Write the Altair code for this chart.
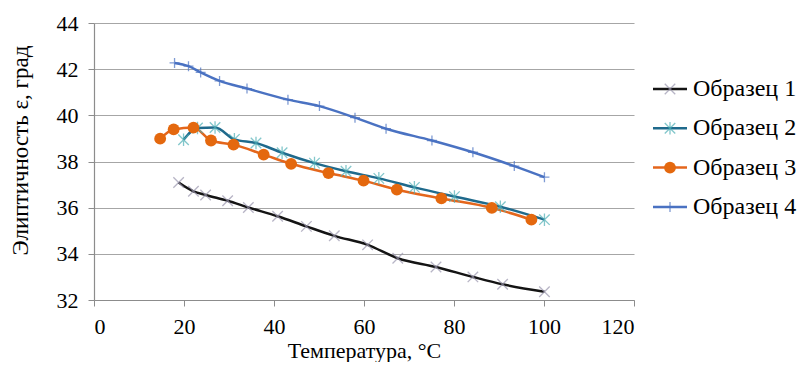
import altair as alt
import pandas as pd

# ---- data ----
series_names = ["Образец 1", "Образец 2", "Образец 3", "Образец 4"]

s1_x = [18.8, 22.1, 24.8, 29.7, 34.3, 40.8, 47.2, 53.4, 60.8, 67.5, 76.0, 84.2, 90.8, 100.1]
s1_y = [37.09, 36.71, 36.55, 36.30, 36.01, 35.63, 35.19, 34.78, 34.39, 33.81, 33.43, 33.00, 32.68, 32.36]

s2_x = [19.9, 23.0, 26.9, 31.2, 36.0, 41.8, 49.0, 56.0, 63.3, 71.2, 80.1, 90.3, 100.1]
s2_y = [38.94, 39.45, 39.47, 38.96, 38.80, 38.38, 37.93, 37.58, 37.27, 36.88, 36.48, 36.04, 35.48]

s3_x = [14.7, 17.7, 22.1, 26.0, 31.0, 37.7, 43.8, 52.1, 59.9, 67.3, 77.2, 88.4, 97.2]
s3_y = [38.99, 39.39, 39.47, 38.91, 38.73, 38.30, 37.90, 37.50, 37.17, 36.78, 36.40, 35.99, 35.48]

s4_x = [17.9, 21.0, 23.7, 27.9, 34.0, 43.1, 50.1, 58.0, 64.9, 75.1, 84.2, 93.4, 100.1]
s4_y = [42.27, 42.13, 41.86, 41.49, 41.16, 40.68, 40.40, 39.90, 39.42, 38.91, 38.40, 37.80, 37.32]

x_ticks = [0, 20, 40, 60, 80, 100, 120]
y_ticks = [32, 34, 36, 38, 40, 42, 44]

line_colors = ["#141414", "#1f6a8c", "#e4661c", "#4a72c2"]

rows = []
for name, xs, ys in zip(series_names, [s1_x, s2_x, s3_x, s4_x], [s1_y, s2_y, s3_y, s4_y]):
    for xv, yv in zip(xs, ys):
        rows.append({"series": name, "t": xv, "e": yv})
df = pd.DataFrame(rows)

leg_df = pd.DataFrame({"series": series_names, "idx": list(range(len(series_names)))})

FONT = "Liberation Serif"

x_enc = alt.X("t:Q", scale=alt.Scale(domain=[0, 120], nice=False),
              axis=alt.Axis(values=x_ticks, title="Температура, °C", grid=False,
                            tickSize=6, labelPadding=10, titlePadding=3,
                            titleFontSize=22))
y_enc = alt.Y("e:Q", scale=alt.Scale(domain=[32, 44], nice=False, zero=False),
              axis=alt.Axis(values=y_ticks, title="Элиптичность ε, град", grid=True,
                            tickSize=6, labelPadding=10,
                            titleFontSize=23, titleX=-67, titleY=127,
                            titleBaseline="alphabetic", titleAlign="center", titleAngle=270))

stroke_scale = alt.Scale(domain=series_names, range=line_colors)

lines = alt.Chart(df).mark_line(strokeWidth=2.5, interpolate="monotone").encode(
    x=x_enc, y=y_enc,
    stroke=alt.Stroke("series:N", scale=stroke_scale, legend=None),
    detail="series:N",
)

# marker styles per series
marker_specs = [
    dict(shape="M-1,-1L1,1M-1,1L1,-1", filled=False, stroke="#9a96ae", strokeWidth=1.3, size=110),
    dict(shape="M-1,-1L1,1M-1,1L1,-1M0,-1.2L0,1.2", filled=False, stroke="#4fb0b6", strokeWidth=1.3, size=110),
    dict(shape="circle", filled=True, fill="#e4680e", opacity=1, size=140),
    dict(shape="M-1,0L1,0M0,-1L0,1", filled=False, stroke="#4a72c2", strokeWidth=1.3, size=100),
]

marker_layers = []
for name, spec in zip(series_names, marker_specs):
    marker_layers.append(
        alt.Chart(df).transform_filter(alt.datum.series == name)
        .mark_point(**spec).encode(x="t:Q", y="e:Q")
    )

# ---- legend (drawn manually, to show line + marker) ----
leg_base = alt.Chart(leg_df).transform_calculate(py="66 + 39.3 * datum.idx")
leg_y = alt.Y("py:Q", scale=None, axis=None)

leg_lines = leg_base.mark_rule(strokeWidth=2.5).encode(
    x=alt.value(559), x2=alt.value(593), y=leg_y,
    stroke=alt.Stroke("series:N", scale=stroke_scale, legend=None),
)
leg_markers = []
for name, spec in zip(series_names, marker_specs):
    leg_markers.append(
        leg_base.transform_filter(alt.datum.series == name)
        .mark_point(**spec).encode(x=alt.value(576), y=leg_y)
    )
leg_text = leg_base.mark_text(align="left", baseline="middle", font=FONT,
                              fontSize=24, color="#000000").encode(
    x=alt.value(599), y=leg_y, text="series:N"
)

chart = alt.layer(lines, *marker_layers, leg_lines, *leg_markers, leg_text).properties(
    width=540, height=277,
    autosize=alt.AutoSizeParams(type="none"),
    padding={"left": 86, "top": 15, "right": 163, "bottom": 62},
).configure_view(stroke=None).configure_axis(
    labelFont=FONT, titleFont=FONT, labelFontSize=22, titleFontSize=22,
    titleFontWeight="normal", labelColor="#000000", titleColor="#000000",
    domainColor="#8c8c8c", tickColor="#8c8c8c", gridColor="#a6a6a6", gridWidth=1.2,
    domainWidth=1.2,
)

chart.save("out.html", embed_options={"renderer": "svg", "actions": False})
